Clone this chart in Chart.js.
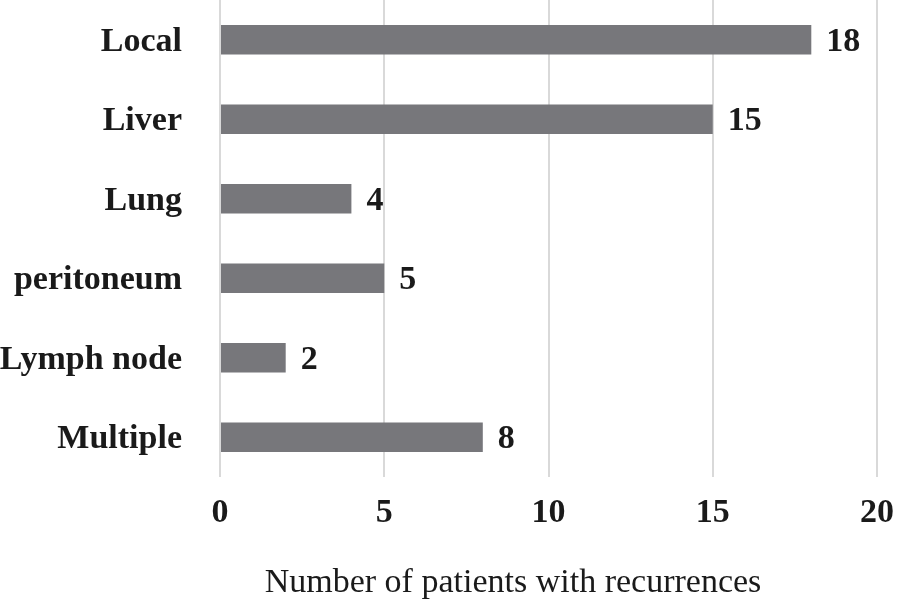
<!DOCTYPE html>
<html>
<head>
<meta charset="utf-8">
<script src="https://cdn.jsdelivr.net/npm/chart.js@4.4.0/dist/chart.umd.min.js"></script>
<style>
html,body{margin:0;padding:0;background:#fff;}
#wrap{width:898px;height:604px;position:relative;}
</style>
</head>
<body>
<div id="wrap"><canvas id="c" width="898" height="604"></canvas></div>
<script>
const categories = ["Local", "Liver", "Lung", "peritoneum", "Lymph node", "Multiple"];
const recurrences = [18, 15, 4, 5, 2, 8];
const xTicks = [0, 5, 10, 15, 20];
const axisTitle = "Number of patients with recurrences";

const FONT = "'Liberation Serif', 'Times New Roman', serif";

const valueLabels = {
  id: 'valueLabels',
  afterDatasetsDraw(chart) {
    const ctx = chart.ctx;
    const meta = chart.getDatasetMeta(0);
    ctx.save();
    ctx.font = "bold 34px " + FONT;
    ctx.fillStyle = "#1a1a1a";
    ctx.textAlign = "left";
    ctx.textBaseline = "middle";
    meta.data.forEach((bar, i) => {
      ctx.fillText(String(chart.data.datasets[0].data[i]), bar.x + 15, bar.y + 2);
    });
    ctx.restore();
  }
};

const axisTitlePlugin = {
  id: 'axisTitlePlugin',
  afterDraw(chart) {
    const ctx = chart.ctx;
    ctx.save();
    ctx.font = "34px " + FONT;
    ctx.fillStyle = "#1a1a1a";
    ctx.textAlign = "center";
    ctx.textBaseline = "alphabetic";
    ctx.fillText(axisTitle, 513, 592);
    ctx.restore();
  }
};

new Chart(document.getElementById('c'), {
  type: 'bar',
  data: {
    labels: categories,
    datasets: [{
      data: recurrences,
      backgroundColor: '#77777b',
      borderWidth: 0,
      categoryPercentage: 1,
      barPercentage: 0.37
    }]
  },
  options: {
    indexAxis: 'y',
    responsive: false,
    animation: false,
    devicePixelRatio: 1,
    layout: { padding: { top: 0, right: 21, bottom: 0, left: 0 } },
    plugins: {
      legend: { display: false },
      tooltip: { enabled: false }
    },
    scales: {
      x: {
        min: 0,
        max: 20,
        afterBuildTicks(scale) { scale.ticks = xTicks.map(v => ({ value: v })); },
        afterFit(scale) { scale.height = 127; scale.paddingLeft = 0; scale.paddingRight = 0; },
        grid: { color: '#d9d9d9', lineWidth: 2, drawTicks: false },
        border: { display: false },
        ticks: {
          padding: 16,
          color: '#1a1a1a',
          font: { family: FONT, size: 34, weight: 'bold' }
        },
        title: { display: false }
      },
      y: {
        afterFit(scale) { scale.width = 220; scale.paddingTop = 0; scale.paddingBottom = 0; },
        grid: { display: false, drawTicks: false },
        border: { display: false },
        ticks: {
          padding: 38,
          labelOffset: 2,
          color: '#1a1a1a',
          font: { family: FONT, size: 34, weight: 'bold' }
        }
      }
    }
  },
  plugins: [valueLabels, axisTitlePlugin]
});
</script>
</body>
</html>
